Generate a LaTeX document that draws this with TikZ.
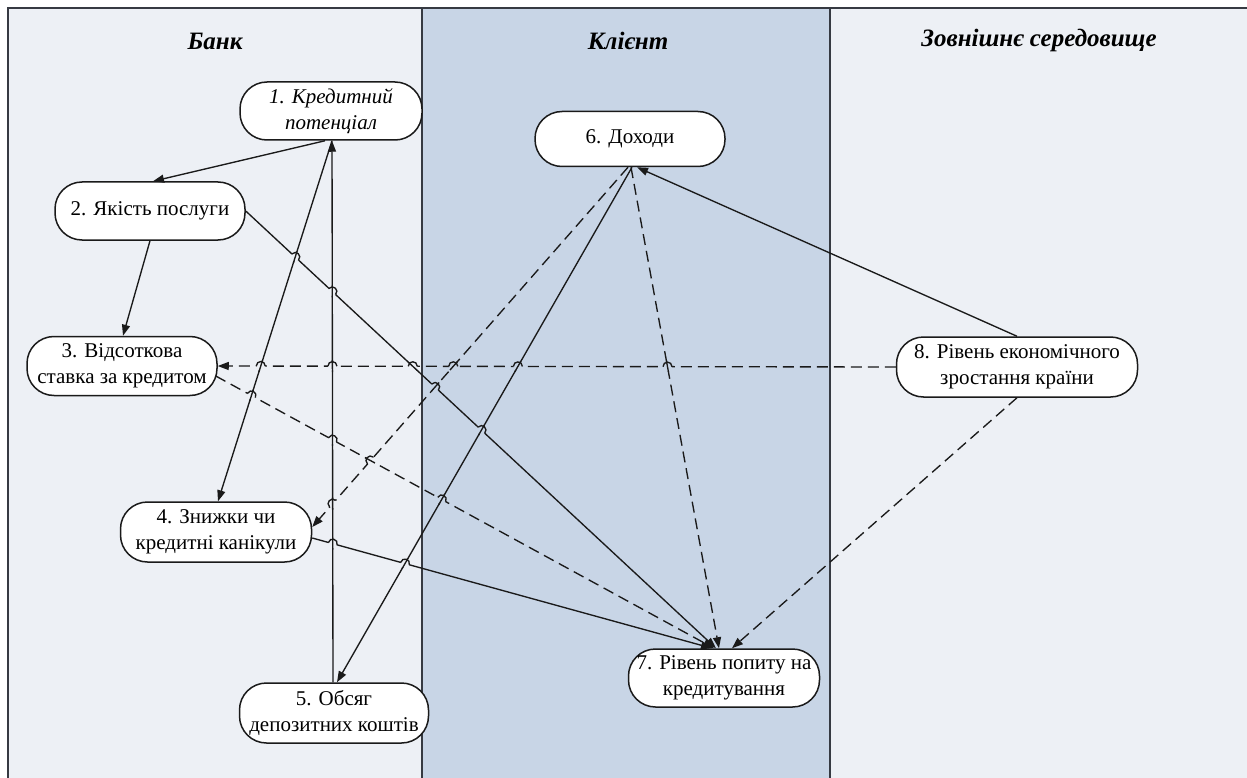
\documentclass[tikz,border=0pt]{standalone}
\usepackage{fontspec}
\setmainfont{Liberation Serif}
\usetikzlibrary{arrows.meta,calc,intersections}
\definecolor{lanelight}{HTML}{EDF0F5}
\definecolor{laneblue}{HTML}{C8D5E6}
\definecolor{framecol}{HTML}{363A42}
\definecolor{inkcol}{HTML}{1A1A1A}
\tikzset{
  box/.style={draw=inkcol, line width=1.5pt, fill=white, rounded corners=27pt,
    inner sep=0pt, align=center, font=\fontsize{21}{26.5}\selectfont},
  conn/.style={draw=inkcol, line width=1.35pt, -{Triangle[length=11pt,width=8pt]}},
  dconn/.style={conn, dash pattern=on 11pt off 6pt},
  hopline/.style={draw=inkcol, line width=1.35pt},
  dashB/.style={draw=inkcol, line width=1.35pt, dash pattern=on 11pt off 6pt},
  head/.style={font=\fontsize{25}{30}\selectfont\bfseries\itshape, text=black},
  lanefr/.style={draw=framecol, line width=1.8pt},
}
% #1 hopping path, #2 crossed path, #3/#4 left/right ends of #1,
% #5/#6 ends of #2, #7 lane colour, #8 style of #2
\newcommand\hopx[8]{%
  \path[name intersections={of=#1 and #2,by=hx}];
  \fill[#7] (hx) circle[radius=4.5pt];
  \draw[#8] ($(hx)!6pt!#5$) -- ($(hx)!6pt!#6$);
  \draw[hopline] ($(hx)!4.5pt!#3$) .. controls ($(hx)!4.5pt!#3!6pt!90:(hx)$)
    and ($(hx)!4.5pt!#4!6pt!-90:(hx)$) .. ($(hx)!4.5pt!#4$);
}
\begin{document}
\begin{tikzpicture}[x=1pt,y=-1pt]
\useasboundingbox (0,0) rectangle (1247,778);
\fill[white] (0,0) rectangle (1247,778);
% lanes
\fill[lanelight] (8,8) rectangle (422,778);
\fill[laneblue] (422,8) rectangle (830,778);
\fill[lanelight] (830,8) rectangle (1247,778);
\draw[lanefr] (8,778) -- (8,8) -- (1247,8);
\draw[lanefr] (422,8) -- (422,778);
\draw[lanefr] (830,8) -- (830,778);
% headers
\node[head] (hb) at (215,41) {Банк};
\node[head] (hk) at (628,41) {Клієнт};
\node[head] (hz) at (1039,40) {Зовнішнє середовище};
% nodes
\node[box, minimum width=182pt, minimum height=58pt, font=\fontsize{21}{26.5}\selectfont\itshape] (n1) at (331,111) {1. Кредитний\\потенціал};
\node[box, minimum width=190pt, minimum height=58pt] (n2) at (150,211) {2. Якість послуги};
\node[box, minimum width=190pt, minimum height=59pt] (n3) at (122,366) {3. Відсоткова\\ставка за кредитом};
\node[box, minimum width=191pt, minimum height=60pt] (n4) at (216,532) {4. Знижки чи\\кредитні канікули};
\node[box, minimum width=189pt, minimum height=60pt] (n5) at (334,713) {5. Обсяг\\депозитних коштів};
\node[box, minimum width=190pt, minimum height=55pt] (n6) at (630,139) {6. Доходи};
\node[box, minimum width=191pt, minimum height=58pt] (n7) at (724,678) {7. Рівень попиту на\\кредитування};
\node[box, minimum width=241pt, minimum height=60pt] (n8) at (1017,367) {8. Рівень економічного\\зростання країни};
% connectors
\draw[conn, name path=pA] ([xshift=-6pt]n1.south) -- ([xshift=3pt]n2.north);
\draw[conn, name path=pB] (n2.south) -- ([xshift=1pt]n3.north);
\draw[conn, name path=pC] (n2.east) -- ([xshift=-8pt]n7.north);
\draw[conn, name path=pD] ([xshift=1pt]n1.south) -- ([xshift=2pt]n4.north);
\draw[conn, name path=pE] ([xshift=-1pt]n5.north) -- ([xshift=1pt]n1.south);
\draw[conn, name path=pF] ([xshift=2pt]n6.south) -- ([xshift=3pt]n5.north);
\draw[dconn, name path=pG] ([xshift=-2pt]n6.south) -- ([yshift=5pt]n4.east);
\draw[dconn, name path=pH] ([xshift=1pt]n6.south) -- ([xshift=-5pt]n7.north);
\draw[conn, name path=pI] (n8.north) -- ([xshift=7pt]n6.south);
\draw[dconn, name path=pJ] (n8.west) -- (n3.east);
\draw[dconn, name path=pK] ([xshift=-2pt,yshift=-10pt]n3.east) -- ([xshift=-10pt]n7.north);
\draw[conn, name path=pL] ([yshift=-6pt]n4.east) -- ([xshift=-12pt]n7.north);
\draw[dconn, name path=pM] (n8.south) -- ([xshift=8pt]n7.north);
% line jumps
\hopx{pC}{pD}{(245,211)}{(716,649)}{(332,140)}{(218,502)}{lanelight}{hopline}
\hopx{pC}{pE}{(245,211)}{(716,649)}{(332,683)}{(332,140)}{lanelight}{hopline}
\hopx{pJ}{pD}{(217,366)}{(897,367)}{(332,140)}{(218,502)}{lanelight}{hopline}
\hopx{pJ}{pE}{(217,366)}{(897,367)}{(332,683)}{(332,140)}{lanelight}{hopline}
\hopx{pJ}{pC}{(217,366)}{(897,367)}{(245,211)}{(716,649)}{lanelight}{hopline}
\hopx{pJ}{pG}{(217,366)}{(897,367)}{(628,167)}{(311,527)}{laneblue}{dashB}
\hopx{pJ}{pF}{(217,366)}{(897,367)}{(632,167)}{(337,683)}{laneblue}{hopline}
\hopx{pJ}{pH}{(217,366)}{(897,367)}{(631,167)}{(719,649)}{laneblue}{dashB}
\hopx{pK}{pD}{(215,376)}{(714,649)}{(332,140)}{(218,502)}{lanelight}{hopline}
\hopx{pK}{pE}{(215,376)}{(714,649)}{(332,683)}{(332,140)}{lanelight}{hopline}
\hopx{pG}{pK}{(311,527)}{(628,167)}{(215,376)}{(714,649)}{lanelight}{dashB}
\hopx{pK}{pF}{(215,376)}{(714,649)}{(632,167)}{(337,683)}{laneblue}{hopline}
\hopx{pL}{pE}{(311,538)}{(712,649)}{(332,683)}{(332,140)}{lanelight}{hopline}
\hopx{pL}{pF}{(311,538)}{(712,649)}{(632,167)}{(337,683)}{lanelight}{hopline}
\hopx{pG}{pE}{(311,527)}{(628,167)}{(332,683)}{(332,140)}{lanelight}{hopline}
\hopx{pC}{pG}{(245,211)}{(716,649)}{(628,167)}{(311,527)}{laneblue}{dashB}
\hopx{pC}{pF}{(245,211)}{(716,649)}{(632,167)}{(337,683)}{laneblue}{hopline}
\end{tikzpicture}
\end{document}
